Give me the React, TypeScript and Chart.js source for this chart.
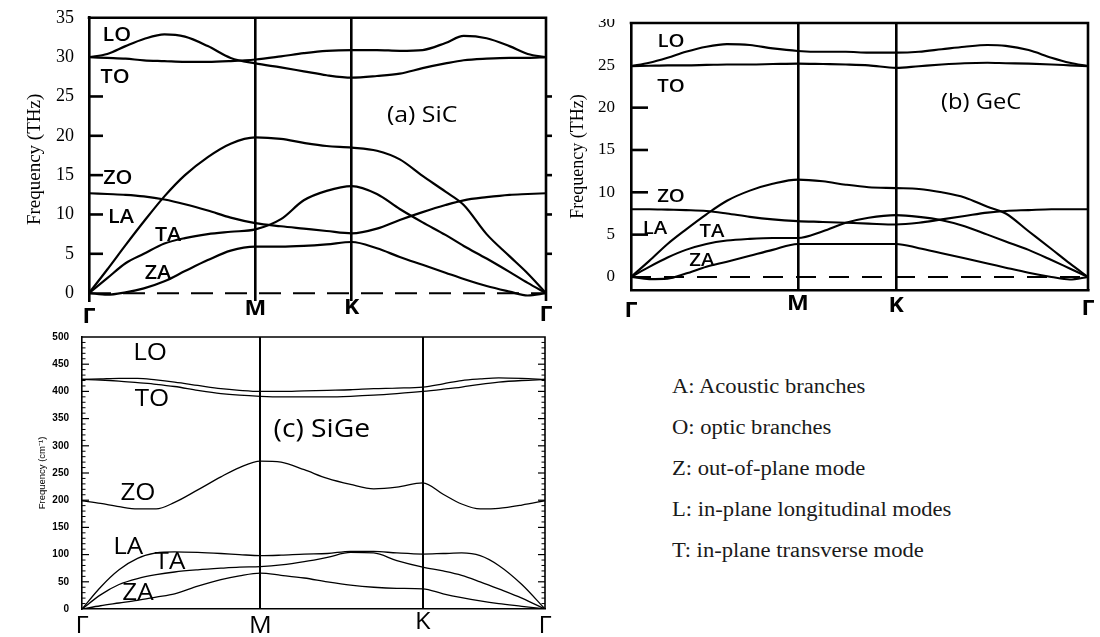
import React, { useEffect, useRef } from 'react';
import { Chart, registerables } from 'chart.js';

Chart.register(...registerables);

// ---- (a) SiC, frequencies in THz along Γ–M–K–Γ (q: 0 = Γ, 1 = Γ) ----
const sicQ = [0, 0.04, 0.08, 0.12, 0.165, 0.21, 0.26, 0.31, 0.364, 0.42, 0.47, 0.52, 0.575, 0.63, 0.68, 0.73, 0.78, 0.82, 0.87, 0.92, 0.96, 1];
const sicLO = [30.0, 30.4, 31.4, 32.3, 32.9, 32.6, 31.4, 29.9, 29.2, 28.7, 28.2, 27.7, 27.4, 27.6, 27.9, 28.6, 29.2, 29.6, 29.8, 29.9, 29.9, 30.0];
const sicTO = [30.0, 29.9, 29.8, 29.6, 29.5, 29.4, 29.4, 29.5, 29.7, 30.1, 30.5, 30.8, 30.9, 30.9, 30.8, 30.9, 31.8, 32.7, 32.4, 31.4, 30.4, 30.0];
const sicZO = [12.7, 12.6, 12.5, 12.3, 11.9, 11.3, 10.5, 9.6, 8.9, 8.5, 8.2, 7.9, 7.6, 8.2, 9.3, 10.3, 11.2, 11.8, 12.2, 12.5, 12.6, 12.7];
const sicLA = [0, 3.0, 6.1, 9.1, 12.3, 15.0, 17.3, 19.0, 19.8, 19.6, 19.1, 18.7, 18.5, 18.1, 17.0, 14.9, 12.9, 11.2, 7.5, 4.7, 2.5, 0];
const sicTA = [0, 1.9, 3.8, 5.0, 6.3, 7.0, 7.5, 7.8, 8.1, 9.4, 11.8, 13.0, 13.6, 12.6, 10.7, 9.0, 7.4, 6.0, 4.4, 2.7, 1.3, 0];
const sicZA = [0, -0.2, 0.1, 0.6, 1.5, 2.8, 4.2, 5.4, 5.9, 5.9, 6.0, 6.2, 6.5, 5.7, 4.6, 3.6, 2.6, 1.8, 0.9, 0.2, -0.3, 0];
const sicPath = [0, 0.364, 0.575, 1];
const sicTicks = [0, 5, 10, 15, 20, 25, 30, 35];

// ---- (b) GeC, frequencies in THz ----
const gecQ = [0, 0.04, 0.08, 0.12, 0.165, 0.21, 0.26, 0.31, 0.365, 0.42, 0.47, 0.52, 0.58, 0.63, 0.68, 0.73, 0.78, 0.82, 0.87, 0.92, 0.96, 1];
const gecLO = [24.9, 25.3, 25.9, 26.6, 27.2, 27.5, 27.4, 27.0, 26.7, 26.6, 26.6, 26.5, 26.5, 26.6, 26.9, 27.2, 27.4, 27.3, 26.8, 25.9, 25.3, 24.9];
const gecTO = [24.9, 24.95, 25.0, 25.0, 25.05, 25.1, 25.1, 25.15, 25.2, 25.15, 25.1, 25.0, 24.7, 24.9, 25.1, 25.25, 25.3, 25.25, 25.2, 25.1, 25.0, 24.9];
const gecZO = [8.0, 8.0, 7.95, 7.9, 7.8, 7.5, 7.1, 6.8, 6.6, 6.5, 6.4, 6.3, 6.2, 6.4, 6.8, 7.2, 7.6, 7.8, 7.9, 8.0, 8.0, 8.0];
const gecLA = [0, 1.9, 3.9, 5.6, 7.4, 9.0, 10.2, 11.0, 11.5, 11.3, 10.9, 10.6, 10.5, 10.4, 10.0, 9.4, 8.3, 7.5, 5.4, 3.3, 1.6, 0];
const gecTA = [0, 1.2, 2.3, 3.2, 3.9, 4.3, 4.5, 4.6, 4.6, 5.4, 6.4, 7.0, 7.3, 7.1, 6.7, 6.0, 5.0, 4.2, 3.2, 2.0, 1.0, 0];
const gecZA = [0, -0.25, -0.2, 0.4, 1.2, 1.8, 2.5, 3.2, 3.9, 3.9, 3.9, 3.9, 3.9, 3.4, 2.8, 2.2, 1.6, 1.1, 0.5, 0.0, -0.3, 0];
const gecPath = [0, 0.365, 0.58, 1];
const gecTicks = [0, 5, 10, 15, 20, 25, 30];

// ---- (c) SiGe, frequencies in cm^-1 ----
const sigeQ = [0, 0.04, 0.08, 0.12, 0.16, 0.2, 0.25, 0.3, 0.34, 0.385, 0.43, 0.48, 0.53, 0.58, 0.63, 0.68, 0.736, 0.78, 0.82, 0.86, 0.9, 0.95, 1];
const sigeLO = [422, 423, 424, 424, 421, 417, 411, 405, 402, 400, 400, 401, 402, 403, 405, 406, 408, 414, 420, 423, 425, 424, 422];
const sigeTO = [422, 421, 419, 416, 413, 409, 402, 396, 393, 391, 390, 390, 390, 391, 393, 396, 400, 404, 408, 413, 417, 420, 422];
const sigeZO = [199, 194, 188, 184, 184, 196, 219, 243, 260, 272, 270, 256, 240, 229, 221, 224, 232, 211, 193, 184, 185, 191, 199];
const sigeLA = [0, 40, 72, 93, 103, 105, 104, 102, 100, 98, 99, 101, 102, 106, 106, 103, 101, 102, 103, 98, 80, 45, 0];
const sigeTA = [0, 26, 45, 56, 63, 68, 72, 75, 77, 78, 81, 87, 95, 104, 103, 89, 77, 70, 62, 50, 37, 20, 0];
const sigeZA = [0, 6, 11, 16, 22, 28, 42, 54, 61, 66, 62, 57, 50, 44, 40, 38, 37, 28, 21, 15, 10, 5, 0];
const sigePath = [0, 0.385, 0.736, 1];
const sigeTicks = [0, 50, 100, 150, 200, 250, 300, 350, 400, 450, 500];

const pathNames = ['Γ', 'M', 'K', 'Γ'];

const legendLines = [
  'A: Acoustic branches',
  'O: optic branches',
  'Z: out-of-plane mode',
  'L: in-plane longitudinal modes',
  'T: in-plane transverse mode',
];

type Note = { text: string; q: number; f: number; size: number; weight: string };

interface PanelSpec {
  left: number;
  top: number;
  width: number;
  height: number;
  clipTop: number;
  area: { left: number; top: number; right: number; bottom: number };
  q: number[];
  branches: number[][];
  yMin: number;
  yMax: number;
  yTicks: number[];
  path: number[];
  pathDy: number[];
  pathFont: string;
  tickFont: { family: string; size: number; weight?: string };
  tickPad: number;
  title: string;
  titleFont: { family: string; size: number };
  titlePad: number;
  lineWidth: number;
  frameWidth: number;
  symLineWidth: number;
  bottomFrame: boolean;
  zeroDash: number[] | null;
  leftTicks: number[];
  leftTickLen: number;
  rightTicks: number[];
  rightTickOut: number; // length of marks pointing out of the frame
  rightTickIn: number; // length of marks pointing into the frame
  minorStep: number;
  minorLen: number;
  notes: Note[];
  noteStretch: number;
}

const specs: PanelSpec[] = [
  {
    left: 0, top: 0, width: 560, height: 330, clipTop: 0,
    area: { left: 89, top: 17, right: 546, bottom: 301 },
    q: sicQ,
    branches: [sicLO, sicTO, sicZO, sicLA, sicTA, sicZA],
    yMin: -1.0, yMax: 35, yTicks: sicTicks,
    path: sicPath, pathDy: [16, 8, 7, 14],
    pathFont: 'bold 21px "Open Sans"',
    tickFont: { family: '"Liberation Serif", serif', size: 18 },
    tickPad: 7,
    title: 'Frequency (THz)',
    titleFont: { family: '"Liberation Serif", serif', size: 19 },
    titlePad: 23.6,
    lineWidth: 2.2, frameWidth: 2.6, symLineWidth: 2.6, bottomFrame: false,
    zeroDash: [22, 12],
    leftTicks: [5, 10, 15, 20, 25], leftTickLen: 14,
    rightTicks: [5, 10, 15, 20, 25], rightTickOut: 6, rightTickIn: 0,
    minorStep: 0, minorLen: 0,
    notes: [
      { text: 'LO', q: 0.061, f: 32.7, size: 19, weight: '600' },
      { text: 'TO', q: 0.057, f: 27.4, size: 19, weight: '600' },
      { text: 'ZO', q: 0.063, f: 14.6, size: 19, weight: '600' },
      { text: 'LA', q: 0.07, f: 9.6, size: 19, weight: '600' },
      { text: 'TA', q: 0.173, f: 7.35, size: 19, weight: '600' },
      { text: 'ZA', q: 0.151, f: 2.5, size: 19, weight: '600' },
      { text: '(a) SiC', q: 0.729, f: 22.6, size: 22, weight: 'normal' },
    ],
    noteStretch: 1.13,
  },
  {
    left: 560, top: 0, width: 540, height: 330, clipTop: 19,
    area: { left: 71, top: 23, right: 528, bottom: 290 },
    q: gecQ,
    branches: [gecLO, gecTO, gecZO, gecLA, gecTA, gecZA],
    yMin: -1.54, yMax: 30, yTicks: gecTicks,
    path: gecPath, pathDy: [21, 14, 16, 19],
    pathFont: 'bold 21px "Open Sans"',
    tickFont: { family: '"Liberation Serif", serif', size: 17 },
    tickPad: 8,
    title: 'Frequency (THz)',
    titleFont: { family: '"Liberation Serif", serif', size: 18 },
    titlePad: 7.2,
    lineWidth: 2.1, frameWidth: 2.6, symLineWidth: 2.6, bottomFrame: true,
    zeroDash: [20, 13],
    leftTicks: [5, 10, 15, 20], leftTickLen: 17,
    rightTicks: [], rightTickOut: 0, rightTickIn: 0,
    minorStep: 0, minorLen: 0,
    notes: [
      { text: 'LO', q: 0.0875, f: 27.75, size: 18, weight: '600' },
      { text: 'TO', q: 0.0875, f: 22.4, size: 18, weight: '600' },
      { text: 'ZO', q: 0.0875, f: 9.45, size: 18, weight: '600' },
      { text: 'LA', q: 0.0525, f: 5.67, size: 18, weight: '600' },
      { text: 'TA', q: 0.177, f: 5.3, size: 18, weight: '600' },
      { text: 'ZA', q: 0.155, f: 1.9, size: 18, weight: '600' },
      { text: '(b) GeC', q: 0.766, f: 20.55, size: 21, weight: 'normal' },
    ],
    noteStretch: 1.13,
  },
  {
    left: 0, top: 320, width: 560, height: 317, clipTop: 0,
    area: { left: 82, top: 17, right: 545, bottom: 289 },
    q: sigeQ,
    branches: [sigeLO, sigeTO, sigeZO, sigeLA, sigeTA, sigeZA],
    yMin: 0, yMax: 500, yTicks: sigeTicks,
    path: sigePath, pathDy: [17, 17, 13, 17],
    pathFont: '23px "Open Sans"',
    tickFont: { family: '"Liberation Sans", Arial, sans-serif', size: 10, weight: 'bold' },
    tickPad: 5,
    title: 'Frequency (cm⁻¹)',
    titleFont: { family: '"Liberation Sans", Arial, sans-serif', size: 9.5 },
    titlePad: 36.3,
    lineWidth: 1.3, frameWidth: 1.6, symLineWidth: 2, bottomFrame: true,
    zeroDash: null,
    leftTicks: [50, 100, 150, 200, 250, 300, 350, 400, 450], leftTickLen: 7,
    rightTicks: [50, 100, 150, 200, 250, 300, 350, 400, 450], rightTickOut: 0, rightTickIn: 7,
    minorStep: 10, minorLen: 3.5,
    notes: [
      { text: 'LO', q: 0.147, f: 470, size: 23, weight: 'normal' },
      { text: 'TO', q: 0.151, f: 386, size: 23, weight: 'normal' },
      { text: 'ZO', q: 0.121, f: 213, size: 23, weight: 'normal' },
      { text: 'LA', q: 0.1, f: 114, size: 23, weight: 'normal' },
      { text: 'TA', q: 0.19, f: 86, size: 23, weight: 'normal' },
      { text: 'ZA', q: 0.121, f: 29, size: 23, weight: 'normal' },
      { text: '(c) SiGe', q: 0.518, f: 329, size: 25, weight: 'normal' },
    ],
    noteStretch: 1.13,
  },
];

function stretchedText(ctx: CanvasRenderingContext2D, text: string, x: number, y: number, font: string, sx: number) {
  ctx.save();
  ctx.font = font;
  ctx.textAlign = 'center';
  ctx.textBaseline = 'middle';
  ctx.translate(x, y);
  ctx.scale(sx, 1);
  ctx.fillText(text, 0, 0);
  ctx.restore();
}

function decorations(s: PanelSpec) {
  return {
    id: 'dispersionFrame',
    afterDraw(chart: any) {
      const { ctx, chartArea: a, scales } = chart;
      const xs = scales.x;
      const ys = scales.y;
      ctx.save();
      ctx.strokeStyle = '#000';
      ctx.fillStyle = '#000';
      ctx.lineCap = 'butt';

      // top and right edges of the frame
      ctx.lineWidth = s.frameWidth;
      ctx.beginPath();
      ctx.moveTo(a.left - s.frameWidth / 2, a.top);
      ctx.lineTo(a.right, a.top);
      ctx.lineTo(a.right, a.bottom);
      ctx.stroke();

      // tick marks on the frame (positive length = to the right)
      const tick = (x: number, v: number, len: number) => {
        const y = ys.getPixelForValue(v);
        ctx.beginPath();
        ctx.moveTo(x, y);
        ctx.lineTo(x + len, y);
        ctx.stroke();
      };
      ctx.lineWidth = s.minorStep ? 1.2 : s.frameWidth;
      s.leftTicks.forEach((v) => tick(a.left, v, s.leftTickLen));
      s.rightTicks.forEach((v) => {
        if (s.rightTickOut) tick(a.right, v, s.rightTickOut);
        if (s.rightTickIn) tick(a.right, v, -s.rightTickIn);
      });
      if (s.minorStep) {
        ctx.lineWidth = 1;
        for (let v = s.yMin + s.minorStep; v < s.yMax; v += s.minorStep) {
          if (s.leftTicks.includes(v)) continue;
          tick(a.left, v, s.minorLen);
          tick(a.right, v, -s.minorLen);
        }
      }

      // branch names and panel caption
      s.notes.forEach((n) => {
        stretchedText(
          ctx,
          n.text,
          xs.getPixelForValue(n.q),
          ys.getPixelForValue(n.f),
          `${n.weight} ${n.size}px "Open Sans"`,
          s.noteStretch,
        );
      });

      // high-symmetry points
      s.path.forEach((q, i) => {
        stretchedText(ctx, pathNames[i], xs.getPixelForValue(q), a.bottom + s.pathDy[i], s.pathFont, 1.1);
      });
      ctx.restore();
    },
  };
}

function buildConfig(s: PanelSpec): any {
  const datasets: any[] = s.branches.map((vals) => ({
    data: s.q.map((q, i) => ({ x: q, y: vals[i] })),
    borderColor: '#000',
    borderWidth: s.lineWidth,
    pointRadius: 0,
    fill: false,
    cubicInterpolationMode: 'monotone',
  }));
  if (s.zeroDash) {
    datasets.push({
      data: [{ x: 0, y: 0 }, { x: 1, y: 0 }],
      borderColor: '#000',
      borderWidth: 2,
      borderDash: s.zeroDash,
      pointRadius: 0,
      fill: false,
    });
  }
  const canvasH = s.height;
  return {
    type: 'line',
    data: { datasets },
    options: {
      responsive: false,
      animation: false,
      events: [],
      layout: {
        padding: { top: s.area.top, right: s.width - s.area.right, left: 0, bottom: 0 },
      },
      plugins: { legend: { display: false }, tooltip: { enabled: false } },
      scales: {
        x: {
          type: 'linear',
          min: 0,
          max: 1,
          afterBuildTicks: (sc: any) => {
            sc.ticks = [s.path[1], s.path[2]].map((v) => ({ value: v }));
          },
          afterFit: (sc: any) => {
            sc.height = canvasH - s.area.bottom;
          },
          ticks: { display: false },
          grid: { display: true, color: '#000', lineWidth: s.symLineWidth, drawTicks: false },
          border: { display: s.bottomFrame, color: '#000', width: s.frameWidth },
        },
        y: {
          type: 'linear',
          min: s.yMin,
          max: s.yMax,
          afterBuildTicks: (sc: any) => {
            sc.ticks = s.yTicks.map((v) => ({ value: v }));
          },
          afterFit: (sc: any) => {
            sc.width = s.area.left;
          },
          ticks: {
            color: '#000',
            padding: s.tickPad,
            font: { family: s.tickFont.family, size: s.tickFont.size, weight: s.tickFont.weight || 'normal' },
          },
          grid: { display: false },
          border: { display: true, color: '#000', width: s.frameWidth },
          title: {
            display: true,
            text: s.title,
            color: '#000',
            font: { family: s.titleFont.family, size: s.titleFont.size },
            padding: { top: s.titlePad, bottom: 0 },
          },
        },
      },
    },
    plugins: [decorations(s)],
  };
}

function Panel({ spec }: { spec: PanelSpec }) {
  const ref = useRef<HTMLCanvasElement>(null);
  useEffect(() => {
    if (!ref.current) return;
    const chart = new Chart(ref.current, buildConfig(spec));
    return () => chart.destroy();
  }, [spec]);
  return (
    <div
      style={{
        position: 'absolute',
        left: spec.left,
        top: spec.top + spec.clipTop,
        width: spec.width,
        height: spec.height - spec.clipTop,
        overflow: 'hidden',
      }}
    >
      <canvas
        ref={ref}
        width={spec.width}
        height={spec.height}
        style={{ position: 'absolute', left: 0, top: -spec.clipTop, width: spec.width, height: spec.height }}
      />
    </div>
  );
}

export default function App() {
  return (
    <div style={{ position: 'absolute', left: 0, top: 0, width: 1100, height: 637, background: '#fff', overflow: 'hidden' }}>
      {specs.map((s, i) => (
        <Panel key={i} spec={s} />
      ))}
      {legendLines.map((t, i) => (
        <div
          key={t}
          style={{
            position: 'absolute',
            left: 672,
            top: 376 + i * 41,
            fontFamily: '"Liberation Serif", "Times New Roman", serif',
            fontSize: 20,
            lineHeight: '20px',
            color: '#1a1a1a',
            whiteSpace: 'nowrap',
            transform: 'scaleX(1.13)',
            transformOrigin: 'left center',
          }}
        >
          {t}
        </div>
      ))}
    </div>
  );
}
